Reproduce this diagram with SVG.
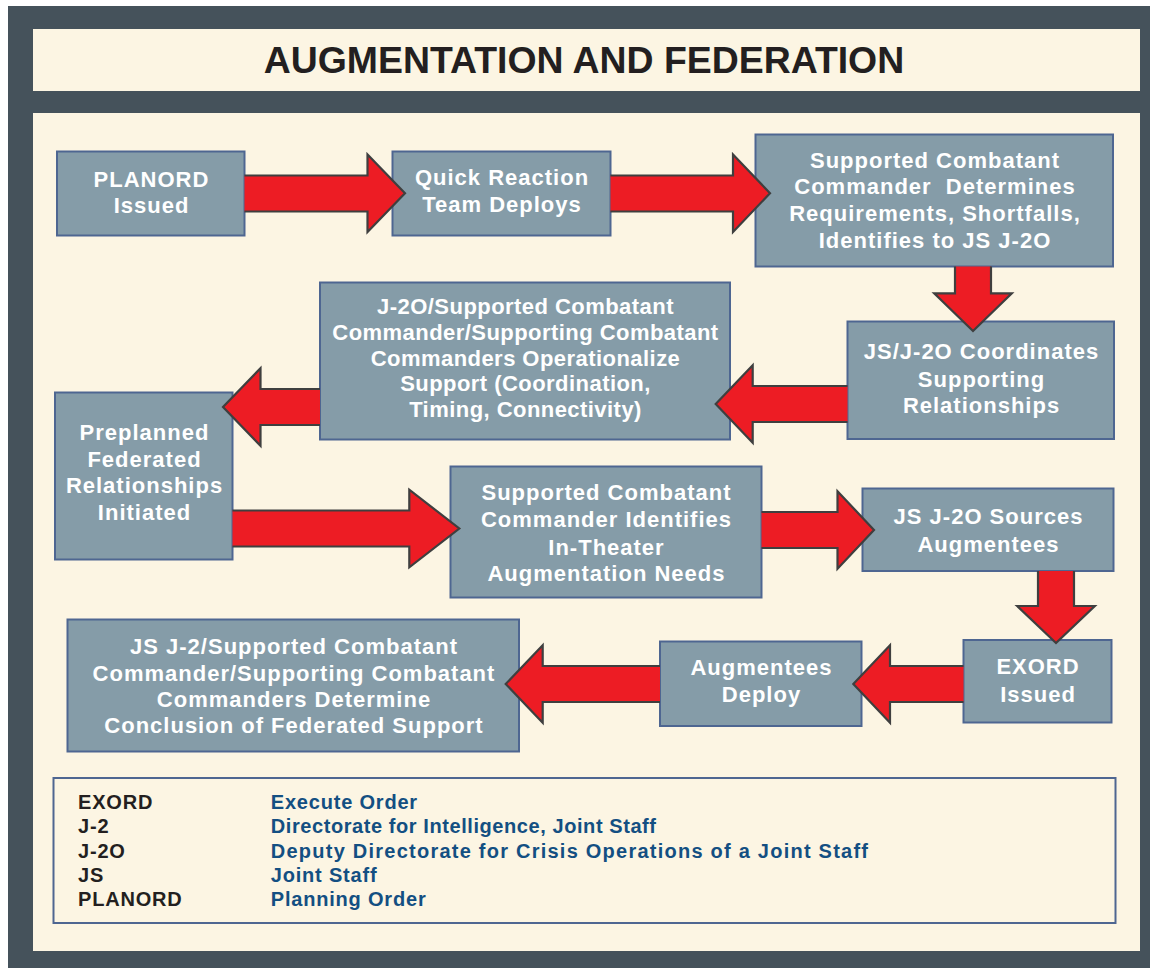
<svg xmlns="http://www.w3.org/2000/svg" width="1154" height="968" viewBox="0 0 1154 968">
<style>
.frame{fill:#45525b}
.panel{fill:#fcf5e3}
.box{fill:#859ca8;stroke:#4e6691;stroke-width:2}
.arr{fill:#ed1c24;stroke:#3f3f3f;stroke-width:2.2;stroke-linejoin:miter}
.t{font-family:"Liberation Sans",Arial,sans-serif;font-weight:bold;font-size:22px;letter-spacing:1px;fill:#ffffff;text-anchor:middle}
.tn{letter-spacing:0.45px}
.title{font-family:"Liberation Sans",Arial,sans-serif;font-weight:bold;font-size:37.4px;fill:#231f20;text-anchor:middle}
.lg{font-family:"Liberation Sans",Arial,sans-serif;font-weight:bold;font-size:20px;letter-spacing:0.8px}
.ab{fill:#231f20}
.ds{fill:#134f82}
</style>
<rect class="frame" x="8" y="6" width="1142" height="962"/>
<rect class="panel" x="33" y="29" width="1107" height="62"/>
<rect class="panel" x="33" y="113" width="1107" height="838"/>
<text class="title" x="584" y="73">AUGMENTATION AND FEDERATION</text>

<g id="n1"><rect class="box" x="57" y="151.5" width="187.5" height="84"/>
<text class="t" x="151.5" y="186.7">PLANORD</text><text class="t" x="151.5" y="213.3">Issued</text></g>
<g id="n2"><rect class="box" x="392.5" y="151.5" width="218" height="84"/>
<text class="t" x="502" y="185">Quick Reaction</text><text class="t" x="502" y="211.7">Team Deploys</text></g>
<g id="n3"><rect class="box" x="755.5" y="134.5" width="357.5" height="132"/>
<text class="t" x="935" y="167.7">Supported Combatant</text>
<text class="t" x="935" y="194.3" xml:space="preserve">Commander  Determines</text>
<text class="t" x="935" y="221">Requirements, Shortfalls,</text>
<text class="t" x="935" y="248">Identifies to JS J-2O</text></g>
<g id="n4"><rect class="box" x="847.5" y="321.5" width="266.5" height="117.5"/>
<text class="t" x="981.5" y="359.3">JS/J-2O Coordinates</text>
<text class="t" x="981.5" y="386.5">Supporting</text>
<text class="t" x="981.5" y="413.3">Relationships</text></g>
<g id="n5"><rect class="box" x="320" y="282.5" width="410" height="157"/>
<text class="t tn" x="525.5" y="314.3">J-2O/Supported Combatant</text>
<text class="t tn" x="525.5" y="340">Commander/Supporting Combatant</text>
<text class="t tn" x="525.5" y="365.7">Commanders Operationalize</text>
<text class="t tn" x="525.5" y="391.3">Support (Coordination,</text>
<text class="t tn" x="525.5" y="416.8">Timing, Connectivity)</text></g>
<g id="n6"><rect class="box" x="55" y="392.5" width="177.5" height="167"/>
<text class="t" x="144.5" y="440">Preplanned</text>
<text class="t" x="144.5" y="466.7">Federated</text>
<text class="t" x="144.5" y="493.3">Relationships</text>
<text class="t" x="144.5" y="520">Initiated</text></g>
<g id="n7"><rect class="box" x="450.5" y="466.5" width="311" height="131"/>
<text class="t" x="606.5" y="500">Supported Combatant</text>
<text class="t" x="606.5" y="527">Commander Identifies</text>
<text class="t" x="606.5" y="554.5">In-Theater</text>
<text class="t" x="606.5" y="581.3">Augmentation Needs</text></g>
<g id="n8"><rect class="box" x="862.5" y="488.5" width="251" height="82.5"/>
<text class="t" x="988.5" y="524.3">JS J-2O Sources</text>
<text class="t" x="988.5" y="551.7">Augmentees</text></g>
<g id="n9"><rect class="box" x="963.5" y="640" width="148" height="82.5"/>
<text class="t" x="1038" y="674.3">EXORD</text>
<text class="t" x="1038" y="701.7">Issued</text></g>
<g id="n10"><rect class="box" x="660" y="641.5" width="201.5" height="84.5"/>
<text class="t" x="761.5" y="675">Augmentees</text>
<text class="t" x="761.5" y="701.7">Deploy</text></g>
<g id="n11"><rect class="box" x="67.5" y="619.5" width="451.5" height="132"/>
<text class="t" x="294" y="654">JS J-2/Supported Combatant</text>
<text class="t" x="294" y="681">Commander/Supporting Combatant</text>
<text class="t" x="294" y="707.3">Commanders Determine</text>
<text class="t" x="294" y="733.3">Conclusion of Federated Support</text></g>

<g id="connectors">
<path class="arr" d="M244.5,175.5 H367.5 V154.5 L405,193.2 L367.5,232 V211.5 H244.5"/>
<path class="arr" d="M610.5,175.5 H733 V154.5 L770,193.2 L733,232 V211.5 H610.5"/>
<path class="arr" d="M955,266.5 V293.3 H934.2 L973,331 L1011.8,293.3 H991 V266.5"/>
<path class="arr" d="M847.5,386 H752.7 V365.2 L715.7,404 L752.7,442.8 V422 H847.5"/>
<path class="arr" d="M320,389 H260.5 V368.2 L223,407 L260.5,445.8 V425 H320"/>
<path class="arr" d="M232.5,510.5 H409.3 V489.7 L459.3,528.5 L409.3,567.3 V546.5 H232.5"/>
<path class="arr" d="M761.5,512 H837.5 V491.2 L874,530 L837.5,568.8 V548 H761.5"/>
<path class="arr" d="M1038,571 V606 H1017.2 L1056,643 L1094.8,606 H1074 V571"/>
<path class="arr" d="M963.5,666 H890 V645.2 L853.3,684 L890,722.8 V702 H963.5"/>
<path class="arr" d="M660,666 H542.7 V645.2 L505.7,684 L542.7,722.8 V702 H660"/>
</g>

<g id="legend">
<rect x="53.5" y="778" width="1062" height="145" fill="#fcf5e3" stroke="#4e6691" stroke-width="2"/>
<text class="lg ab" x="78" y="809.3">EXORD</text>
<text class="lg ab" x="78" y="833.4">J-2</text>
<text class="lg ab" x="78" y="857.5">J-2O</text>
<text class="lg ab" x="78" y="881.6">JS</text>
<text class="lg ab" x="78" y="905.7">PLANORD</text>
<text class="lg ds" x="270.8" y="809.3">Execute Order</text>
<text class="lg ds" x="270.8" y="833.4" textLength="386" lengthAdjust="spacing">Directorate for Intelligence, Joint Staff</text>
<text class="lg ds" x="270.8" y="857.5" textLength="598" lengthAdjust="spacing">Deputy Directorate for Crisis Operations of a Joint Staff</text>
<text class="lg ds" x="270.8" y="881.6">Joint Staff</text>
<text class="lg ds" x="270.8" y="905.7">Planning Order</text>
</g>
</svg>
